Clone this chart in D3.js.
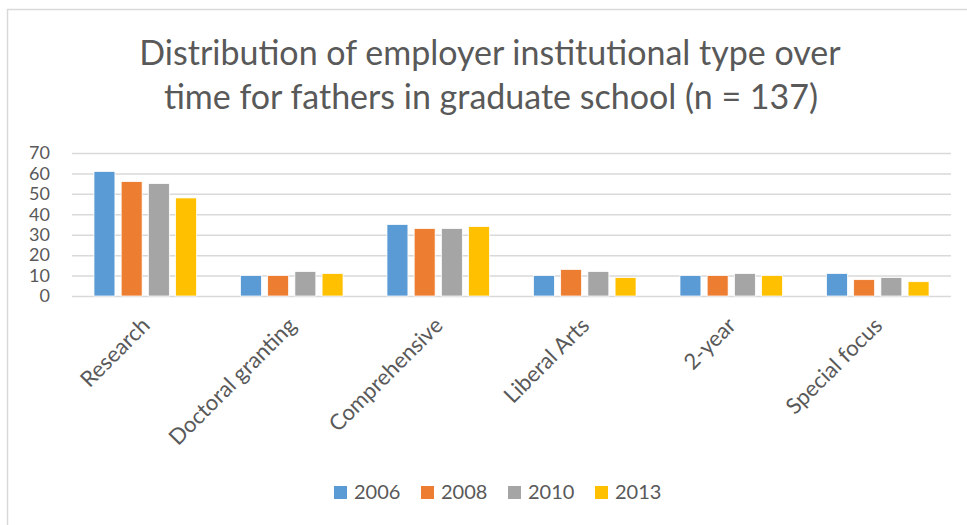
<!DOCTYPE html>
<html lang="en">
<head>
<meta charset="utf-8">
<title>Employer institutional type</title>
<script src="https://d3js.org/d3.v7.min.js"></script>
<style>
  body { margin: 0; background: #fff; }
  text { font-family: Lato, "Open Sans", sans-serif; fill: #595959; }
</style>
</head>
<body>
<div id="chart"></div>
<script>
// data
const categories = ["Research", "Doctoral granting", "Comprehensive", "Liberal Arts", "2-year", "Special focus"];
const years = ["2006", "2008", "2010", "2013"];
const v2006 = [61, 10, 35, 10, 10, 11];
const v2008 = [56, 10, 33, 13, 10, 8];
const v2010 = [55, 12, 33, 12, 11, 9];
const v2013 = [48, 11, 34, 9, 10, 7];
const yTicks = [0, 10, 20, 30, 40, 50, 60, 70];
const colors = ["#5b9bd5", "#ed7d31", "#a5a5a5", "#ffc000"];

const series = [v2006, v2008, v2010, v2013];
const rows = categories.map((c, i) => ({cat: c, vals: years.map((y, j) => ({year: y, v: series[j][i]}))}));

const W = 967, H = 525;
const margin = {top: 153, right: 16, bottom: 229, left: 72};
const width = W - margin.left - margin.right,
      height = H - margin.top - margin.bottom;

const svg = d3.select("#chart").append("svg")
  .attr("width", W).attr("height", H);

// chart border (only top/left visible in the crop)
svg.append("rect")
  .attr("x", 7.5).attr("y", 9.5)
  .attr("width", W + 20).attr("height", H + 20)
  .attr("fill", "none").attr("stroke", "#d9d9d9").attr("stroke-width", 1.5);

// title
svg.append("text")
  .attr("x", 490).attr("y", 65)
  .attr("text-anchor", "middle")
  .style("font-size", "34px")
  .text("Distribution of employer institutional type over");
svg.append("text")
  .attr("x", 491).attr("y", 109)
  .attr("text-anchor", "middle")
  .style("font-size", "34px")
  .text("time for fathers in graduate school (n = 137)");

const g = svg.append("g").attr("transform", `translate(${margin.left},${margin.top})`);

const x0 = d3.scaleBand().domain(categories).range([0, width]).paddingInner(0.3).paddingOuter(0.15);
const x1 = d3.scaleBand().domain(years).range([0, x0.bandwidth()]).paddingInner(0.23);
const y = d3.scaleLinear().domain([0, 70]).range([height, 0]);

// gridlines
g.append("g")
  .call(d3.axisLeft(y).tickValues(yTicks).tickSize(-width).tickFormat(""))
  .call(a => a.select(".domain").remove())
  .call(a => a.selectAll(".tick line").attr("stroke", "#d9d9d9").attr("stroke-width", 1.5));

// y labels
g.append("g")
  .call(d3.axisLeft(y).tickValues(yTicks).tickSize(0).tickPadding(22))
  .call(a => a.select(".domain").remove())
  .call(a => a.selectAll(".tick text")
    .style("font-size", "18px").attr("fill", "#595959")
    .style("font-family", "Lato, 'Open Sans', sans-serif"));

// bars
g.selectAll(".grp")
  .data(rows)
  .join("g")
    .attr("transform", d => `translate(${x0(d.cat)},0)`)
  .selectAll("rect")
  .data(d => d.vals)
  .join("rect")
    .attr("x", d => x1(d.year))
    .attr("width", x1.bandwidth())
    .attr("y", d => y(d.v))
    .attr("height", d => height - y(d.v))
    .attr("fill", (d, i) => colors[i])
    .attr("stroke", "#fff").attr("stroke-width", 0.75);

// category labels, rotated
g.selectAll(".cat")
  .data(categories)
  .join("text")
    .attr("text-anchor", "end")
    .attr("transform", d => `translate(${x0(d) + x0.bandwidth() / 2 - 5},${height + 20}) rotate(-45)`)
    .attr("dy", "0.7em")
    .style("font-size", "22px")
    .text(d => d);

// legend
const leg = svg.append("g").attr("transform", "translate(334,486)");
const item = leg.selectAll("g")
  .data(years)
  .join("g")
    .attr("transform", (d, i) => `translate(${i * 87},0)`);
item.append("rect")
  .attr("width", 13).attr("height", 13)
  .attr("fill", (d, i) => colors[i]);
item.append("text")
  .attr("x", 20).attr("y", 13)
  .style("font-size", "20px")
  .text(d => d);
</script>
</body>
</html>
